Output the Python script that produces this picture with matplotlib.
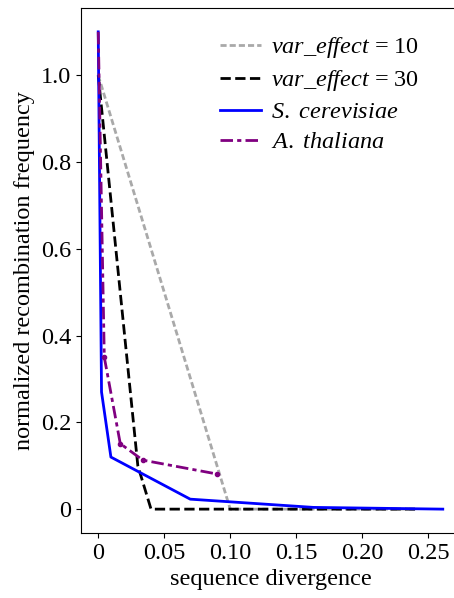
import matplotlib
matplotlib.use("Agg")
import matplotlib.pyplot as plt

# values
var10_x = [0.0, 0.10, 0.24]
var10_y = [1.0, 0.0, 0.0]

var30_x = [0.0, 0.03, 0.04, 0.24]
var30_y = [1.0, 0.1, 0.0, 0.0]

scer_x = [0.0, 0.0025, 0.0096, 0.0697, 0.163, 0.261]
scer_y = [1.1, 0.27, 0.12, 0.023, 0.004, 0.0]

atha_x = [0.0, 0.0046, 0.0167, 0.0337, 0.0899]
atha_y = [1.1, 0.35, 0.151, 0.113, 0.081]

xticks = [0, 0.05, 0.10, 0.15, 0.20, 0.25]
xticklabels = ["0", "0.05", "0.10", "0.15", "0.20", "0.25"]
yticks = [0, 0.2, 0.4, 0.6, 0.8, 1.0]
yticklabels = ["0", "0.2", "0.4", "0.6", "0.8", "1.0"]

plt.rcParams["font.family"] = ["Liberation Serif", "DejaVu Serif"]
plt.rcParams["mathtext.fontset"] = "custom"
plt.rcParams["mathtext.rm"] = "Liberation Serif"
plt.rcParams["mathtext.it"] = "Liberation Serif:italic"
plt.rcParams["font.size"] = 17.5

fig = plt.figure(figsize=(4.54, 5.98), dpi=100)
ax = fig.add_axes([81 / 454, 65 / 598, 379 / 454, 525 / 598])

ax.plot(var10_x, var10_y, color="darkgray", lw=2, dashes=(2.2, 1.1),
        label=r"$\it{var\_effect}$ = 10")
ax.plot(var30_x, var30_y, color="black", lw=2, linestyle="--",
        label=r"$\it{var\_effect}$ = 30")
ax.plot(scer_x, scer_y, color="blue", lw=2, label=r"$\it{S.}$ $\it{cerevisiae}$")
ax.plot(atha_x[1:], atha_y[1:], color="purple", lw=0, marker="o", markersize=3)
ax.plot(atha_x, atha_y, color="purple", lw=2, dashes=(4.5, 1.5, 1.5, 1.5),
        label=r"$\it{A.}$ $\it{thaliana}$")

ax.set_xticks(xticks)
ax.set_xticklabels(xticklabels)
ax.set_yticks(yticks)
ax.set_yticklabels(yticklabels)
ax.set_xlabel("sequence divergence")
ax.set_ylabel("normalized recombination frequency")
ax.spines["right"].set_visible(False)

ax.legend(loc="upper right", frameon=False, handlelength=1.7,
          handletextpad=0.4, labelspacing=0.33, bbox_to_anchor=(0.95, 0.99))

fig.savefig("out.png", dpi=100)
